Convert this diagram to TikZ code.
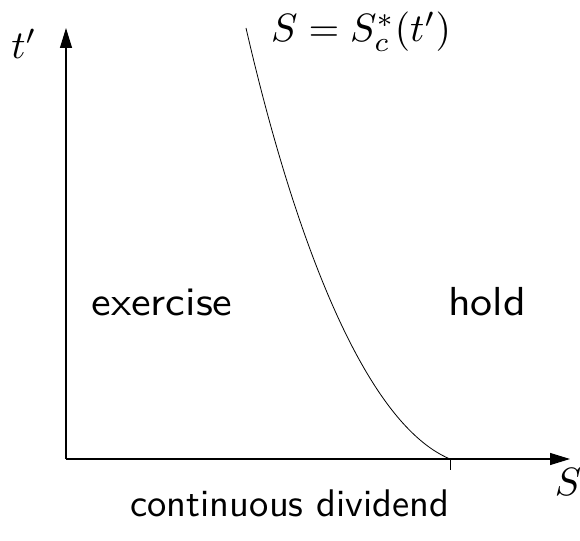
\documentclass[tikz,border=0pt]{standalone}
\usetikzlibrary{arrows.meta}
\begin{document}
\begin{tikzpicture}[x=1pt,y=-1pt,
  axis/.style={line width=1.2pt,-{Triangle[length=20pt,width=12pt]}},
  thin line/.style={line width=0.8pt},
  lbl/.style={inner sep=0pt,scale=3.95,transform shape},
  slbl/.style={inner sep=0pt,xscale=4.4,yscale=4.05,transform shape,font=\sffamily},
  blbl/.style={inner sep=0pt,scale=3.85,transform shape,font=\sffamily}]
\useasboundingbox (0,0) rectangle (580,540);
\coordinate (O) at (66,459);
\coordinate (ytip) at (66,28);
\coordinate (xtip) at (570,459);
\coordinate (c0) at (246,28);
\coordinate (c1) at (450,459);
\coordinate (tk) at (450,470);
\draw[axis] (O) -- (ytip);
\draw[axis] (O) -- (xtip);
\draw[thin line] (c0) .. controls (292,228) and (362,422) .. (c1);
\draw[thin line] (c1) -- (tk);
\node[lbl] (tl) at (24,44) {$t'$};
\node[lbl] (sl) at (568,482) {$S$};
\node[lbl] (cl) at (361,31.5) {$S=S_c^*(t')$};
\node[slbl] (ex) at (162,302) {exercise};
\node[slbl] (ho) at (487,302) {hold};
\node[blbl] (cd) at (290,503) {continuous dividend};
\end{tikzpicture}
\end{document}
